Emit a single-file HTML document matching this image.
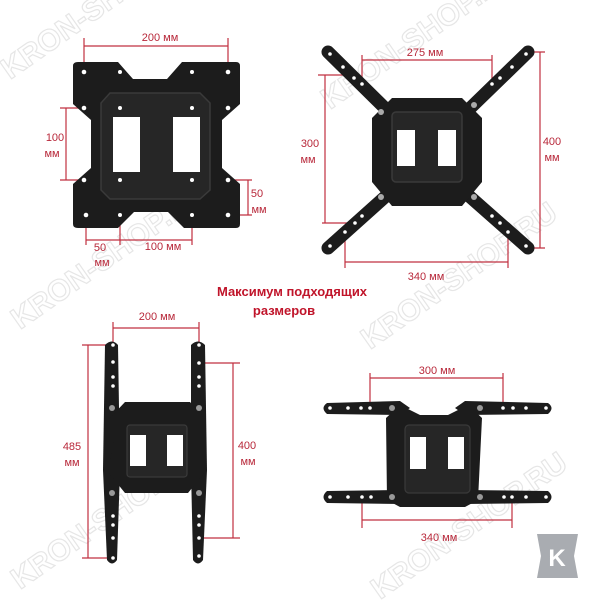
<!DOCTYPE html>
<html><head><meta charset="utf-8"><style>
html,body{margin:0;padding:0;background:#fff;width:600px;height:600px;overflow:hidden}
svg{display:block}
.t{font-family:"Liberation Sans",sans-serif;font-size:11px;fill:#b8283a}
.b{font-family:"Liberation Sans",sans-serif;font-size:13px;font-weight:bold;fill:#c0142a}
.w{font-family:"Liberation Sans",sans-serif;font-size:30px;font-weight:bold;fill:none;stroke:#e6e6e6;stroke-width:1.2}
</style></head><body>
<svg width="600" height="600" viewBox="0 0 600 600" xmlns="http://www.w3.org/2000/svg">
<rect width="600" height="600" fill="#fff"/>
<!-- watermarks -->
<g>
<text class="w" transform="translate(10,80) rotate(-35)">KRON-SHOP.RU</text>
<text class="w" transform="translate(330,110) rotate(-35)">KRON-SHOP.RU</text>
<text class="w" transform="translate(20,330) rotate(-35)">KRON-SHOP.RU</text>
<text class="w" transform="translate(370,350) rotate(-35)">KRON-SHOP.RU</text>
<text class="w" transform="translate(20,590) rotate(-35)">KRON-SHOP.RU</text>
<text class="w" transform="translate(380,600) rotate(-35)">KRON-SHOP.RU</text>
</g>

<g stroke="#c03040" stroke-width="1.2" fill="none">
<!-- panel1 -->
<line x1="84" y1="38" x2="84" y2="72"/><line x1="228" y1="38" x2="228" y2="72"/><line x1="84" y1="46" x2="228" y2="46"/>
<line x1="60" y1="108" x2="84" y2="108"/><line x1="60" y1="180" x2="84" y2="180"/><line x1="66" y1="108" x2="66" y2="180"/>
<line x1="228" y1="180" x2="252" y2="180"/><line x1="228" y1="215" x2="252" y2="215"/><line x1="248" y1="180" x2="248" y2="215"/>
<line x1="86" y1="215" x2="86" y2="245"/><line x1="120" y1="180" x2="120" y2="245"/><line x1="192" y1="180" x2="192" y2="245"/><line x1="86" y1="240" x2="192" y2="240"/>
<!-- panel2 -->
<line x1="362" y1="55" x2="362" y2="80"/><line x1="492" y1="55" x2="492" y2="80"/><line x1="362" y1="60" x2="492" y2="60"/>
<line x1="318" y1="75" x2="355" y2="75"/><line x1="322" y1="223" x2="355" y2="223"/><line x1="325" y1="75" x2="325" y2="223"/>
<line x1="527" y1="52" x2="545" y2="52"/><line x1="527" y1="248" x2="545" y2="248"/><line x1="540" y1="52" x2="540" y2="248"/>
<line x1="345" y1="230" x2="345" y2="268"/><line x1="508" y1="230" x2="508" y2="268"/><line x1="345" y1="262" x2="508" y2="262"/>
<!-- panel3 -->
<line x1="113" y1="322" x2="113" y2="345"/><line x1="199" y1="322" x2="199" y2="345"/><line x1="113" y1="328" x2="199" y2="328"/>
<line x1="82" y1="345" x2="112" y2="345"/><line x1="82" y1="558" x2="112" y2="558"/><line x1="88" y1="345" x2="88" y2="558"/>
<line x1="200" y1="363" x2="240" y2="363"/><line x1="200" y1="538" x2="240" y2="538"/><line x1="233" y1="363" x2="233" y2="538"/>
<!-- panel4 -->
<line x1="370" y1="373" x2="370" y2="410"/><line x1="503" y1="373" x2="503" y2="410"/><line x1="370" y1="378" x2="503" y2="378"/>
<line x1="362" y1="497" x2="362" y2="528"/><line x1="512" y1="497" x2="512" y2="528"/><line x1="362" y1="520" x2="512" y2="520"/>
</g>

<!-- panel1 plate -->
<path d="M78,62 L118,62 L133,79 L167,79 L182,62 L236,62 Q240,62 240,66 L240,104 L222,120 L222,168 L240,184 L240,224 Q240,228 236,228 L184,228 L168,212 L134,212 L118,228 L78,228 Q73,228 73,224 L73,184 L91,168 L91,120 L73,104 L73,66 Q73,62 78,62 Z" fill="#1c1c1c"/>
<path d="M110,93 L200,93 L210,103 L210,190 L200,199 L110,199 L101,190 L101,103 Z" fill="#262626" stroke="#3a3a3a" stroke-width="1.5"/>
<rect x="113" y="117" width="27" height="55" fill="#fff"/><rect x="173" y="117" width="27" height="55" fill="#fff"/>
<g fill="#fff"><circle cx="84" cy="72" r="2.3"/><circle cx="228" cy="72" r="2.3"/><circle cx="120" cy="72" r="2"/><circle cx="192" cy="72" r="2"/>
<circle cx="84" cy="108" r="2.3"/><circle cx="228" cy="108" r="2.3"/><circle cx="120" cy="108" r="2"/><circle cx="192" cy="108" r="2"/>
<circle cx="84" cy="180" r="2.3"/><circle cx="228" cy="180" r="2.3"/><circle cx="120" cy="180" r="2"/><circle cx="192" cy="180" r="2"/>
<circle cx="86" cy="215" r="2.3"/><circle cx="228" cy="215" r="2.3"/><circle cx="120" cy="215" r="2"/><circle cx="192" cy="215" r="2"/></g>

<!-- panel2 X -->
<g stroke="#1c1c1c" stroke-width="13" stroke-linecap="round">
<line x1="328" y1="52" x2="395" y2="118"/><line x1="528" y1="52" x2="460" y2="118"/>
<line x1="328" y1="248" x2="395" y2="188"/><line x1="528" y1="248" x2="460" y2="188"/>
</g>
<path d="M392,98 L462,98 L482,118 L482,182 L462,206 L392,206 L372,182 L372,118 Z" fill="#1c1c1c"/>
<rect x="392" y="112" width="70" height="70" fill="#262626" stroke="#3a3a3a" stroke-width="1.5" rx="4"/>
<rect x="397" y="130" width="18" height="36" fill="#fff"/><rect x="438" y="130" width="18" height="36" fill="#fff"/>
<g fill="#fff"><circle cx="330" cy="54" r="1.8"/><circle cx="343" cy="67" r="1.8"/><circle cx="354" cy="78" r="1.8"/><circle cx="362" cy="84" r="1.8"/>
<circle cx="526" cy="54" r="1.8"/><circle cx="512" cy="67" r="1.8"/><circle cx="500" cy="78" r="1.8"/><circle cx="492" cy="84" r="1.8"/>
<circle cx="330" cy="246" r="1.8"/><circle cx="345" cy="232" r="1.8"/><circle cx="355" cy="223" r="1.8"/><circle cx="362" cy="216" r="1.8"/>
<circle cx="526" cy="246" r="1.8"/><circle cx="508" cy="232" r="1.8"/><circle cx="500" cy="223" r="1.8"/><circle cx="492" cy="216" r="1.8"/>
<circle cx="381" cy="112" r="3" fill="#aaa"/><circle cx="474" cy="105" r="3" fill="#aaa"/><circle cx="381" cy="197" r="3" fill="#aaa"/><circle cx="474" cy="197" r="3" fill="#aaa"/></g>

<!-- panel3 H -->
<g fill="#1c1c1c">
<path d="M105,345 Q112,338 118,345 L120,470 L117,560 Q112,567 107,560 L103,470 Z"/>
<path d="M191,345 Q198,338 205,345 L207,470 L203,560 Q198,567 193,560 L191,470 Z"/>
<path d="M125,402 L190,402 L206,420 L200,440 L205,472 L188,493 L125,493 L108,472 L114,440 L108,420 Z"/>
</g>
<rect x="127" y="425" width="60" height="52" fill="#262626" stroke="#3a3a3a" stroke-width="1.2" rx="3"/>
<rect x="130" y="435" width="16" height="31" fill="#fff"/><rect x="167" y="435" width="16" height="31" fill="#fff"/>
<g fill="#fff"><circle cx="113" cy="345" r="1.8"/><circle cx="113" cy="362" r="1.8"/><circle cx="113" cy="377" r="1.8"/><circle cx="113" cy="386" r="1.8"/>
<circle cx="199" cy="345" r="1.8"/><circle cx="199" cy="363" r="1.8"/><circle cx="199" cy="377" r="1.8"/><circle cx="199" cy="386" r="1.8"/>
<circle cx="113" cy="516" r="1.8"/><circle cx="113" cy="525" r="1.8"/><circle cx="113" cy="538" r="1.8"/><circle cx="113" cy="558" r="1.8"/>
<circle cx="199" cy="516" r="1.8"/><circle cx="199" cy="525" r="1.8"/><circle cx="199" cy="538" r="1.8"/><circle cx="199" cy="556" r="1.8"/>
<circle cx="112" cy="408" r="3" fill="#999"/><circle cx="199" cy="408" r="3" fill="#999"/><circle cx="112" cy="493" r="3" fill="#999"/><circle cx="199" cy="493" r="3" fill="#999"/></g>

<!-- panel4 -->
<g fill="#1c1c1c">
<path d="M327,403 L400,401 L410,408 L400,415 L327,414 Q320,408 327,403 Z"/>
<path d="M548,403 L465,401 L455,408 L465,415 L548,414 Q555,408 548,403 Z"/>
<path d="M327,491 L400,490 L410,497 L400,504 L327,503 Q320,497 327,491 Z"/>
<path d="M548,491 L465,490 L455,497 L465,504 L548,503 Q555,497 548,491 Z"/>
<path d="M400,405 L420,415 L448,415 L468,405 L482,418 L478,500 L465,507 L400,507 L387,500 L386,418 Z"/>
</g>
<rect x="405" y="425" width="65" height="68" fill="#262626" stroke="#3a3a3a" stroke-width="1.2" rx="4"/>
<rect x="410" y="437" width="16" height="32" fill="#fff"/><rect x="448" y="437" width="16" height="32" fill="#fff"/>
<g fill="#fff"><circle cx="330" cy="408" r="1.8"/><circle cx="348" cy="408" r="1.8"/><circle cx="361" cy="408" r="1.8"/><circle cx="370" cy="408" r="1.8"/>
<circle cx="503" cy="408" r="1.8"/><circle cx="513" cy="408" r="1.8"/><circle cx="526" cy="408" r="1.8"/><circle cx="546" cy="408" r="1.8"/>
<circle cx="330" cy="497" r="1.8"/><circle cx="348" cy="497" r="1.8"/><circle cx="362" cy="497" r="1.8"/><circle cx="371" cy="497" r="1.8"/>
<circle cx="504" cy="497" r="1.8"/><circle cx="512" cy="497" r="1.8"/><circle cx="526" cy="497" r="1.8"/><circle cx="546" cy="497" r="1.8"/>
<circle cx="392" cy="408" r="3" fill="#999"/><circle cx="480" cy="408" r="3" fill="#999"/><circle cx="392" cy="497" r="3" fill="#999"/><circle cx="480" cy="497" r="3" fill="#999"/></g>

<!-- labels -->
<text class="t" x="160" y="41" text-anchor="middle">200 мм</text>
<text class="t" x="55" y="141" text-anchor="middle">100</text><text class="t" x="52" y="157" text-anchor="middle">мм</text>
<text class="t" x="257" y="197" text-anchor="middle">50</text><text class="t" x="259" y="213" text-anchor="middle">мм</text>
<text class="t" x="100" y="251" text-anchor="middle">50</text><text class="t" x="102" y="266" text-anchor="middle">мм</text>
<text class="t" x="163" y="250" text-anchor="middle">100 мм</text>
<text class="t" x="425" y="56" text-anchor="middle">275 мм</text>
<text class="t" x="310" y="147" text-anchor="middle">300</text><text class="t" x="308" y="163" text-anchor="middle">мм</text>
<text class="t" x="552" y="145" text-anchor="middle">400</text><text class="t" x="552" y="161" text-anchor="middle">мм</text>
<text class="t" x="426" y="280" text-anchor="middle">340 мм</text>
<text class="b" x="292" y="296" text-anchor="middle">Максимум подходящих</text>
<text class="b" x="284" y="315" text-anchor="middle">размеров</text>
<text class="t" x="157" y="320" text-anchor="middle">200 мм</text>
<text class="t" x="72" y="450" text-anchor="middle">485</text><text class="t" x="72" y="466" text-anchor="middle">мм</text>
<text class="t" x="247" y="449" text-anchor="middle">400</text><text class="t" x="248" y="465" text-anchor="middle">мм</text>
<text class="t" x="437" y="374" text-anchor="middle">300 мм</text>
<text class="t" x="439" y="541" text-anchor="middle">340 мм</text>

<!-- K logo -->
<path d="M537,534 L578,534 L574,556 L578,578 L537,578 L541,556 Z" fill="#a9acb1"/>
<text x="557" y="566" text-anchor="middle" font-family="Liberation Sans,sans-serif" font-weight="bold" font-size="24" fill="#fff">K</text>
</svg>
</body></html>
